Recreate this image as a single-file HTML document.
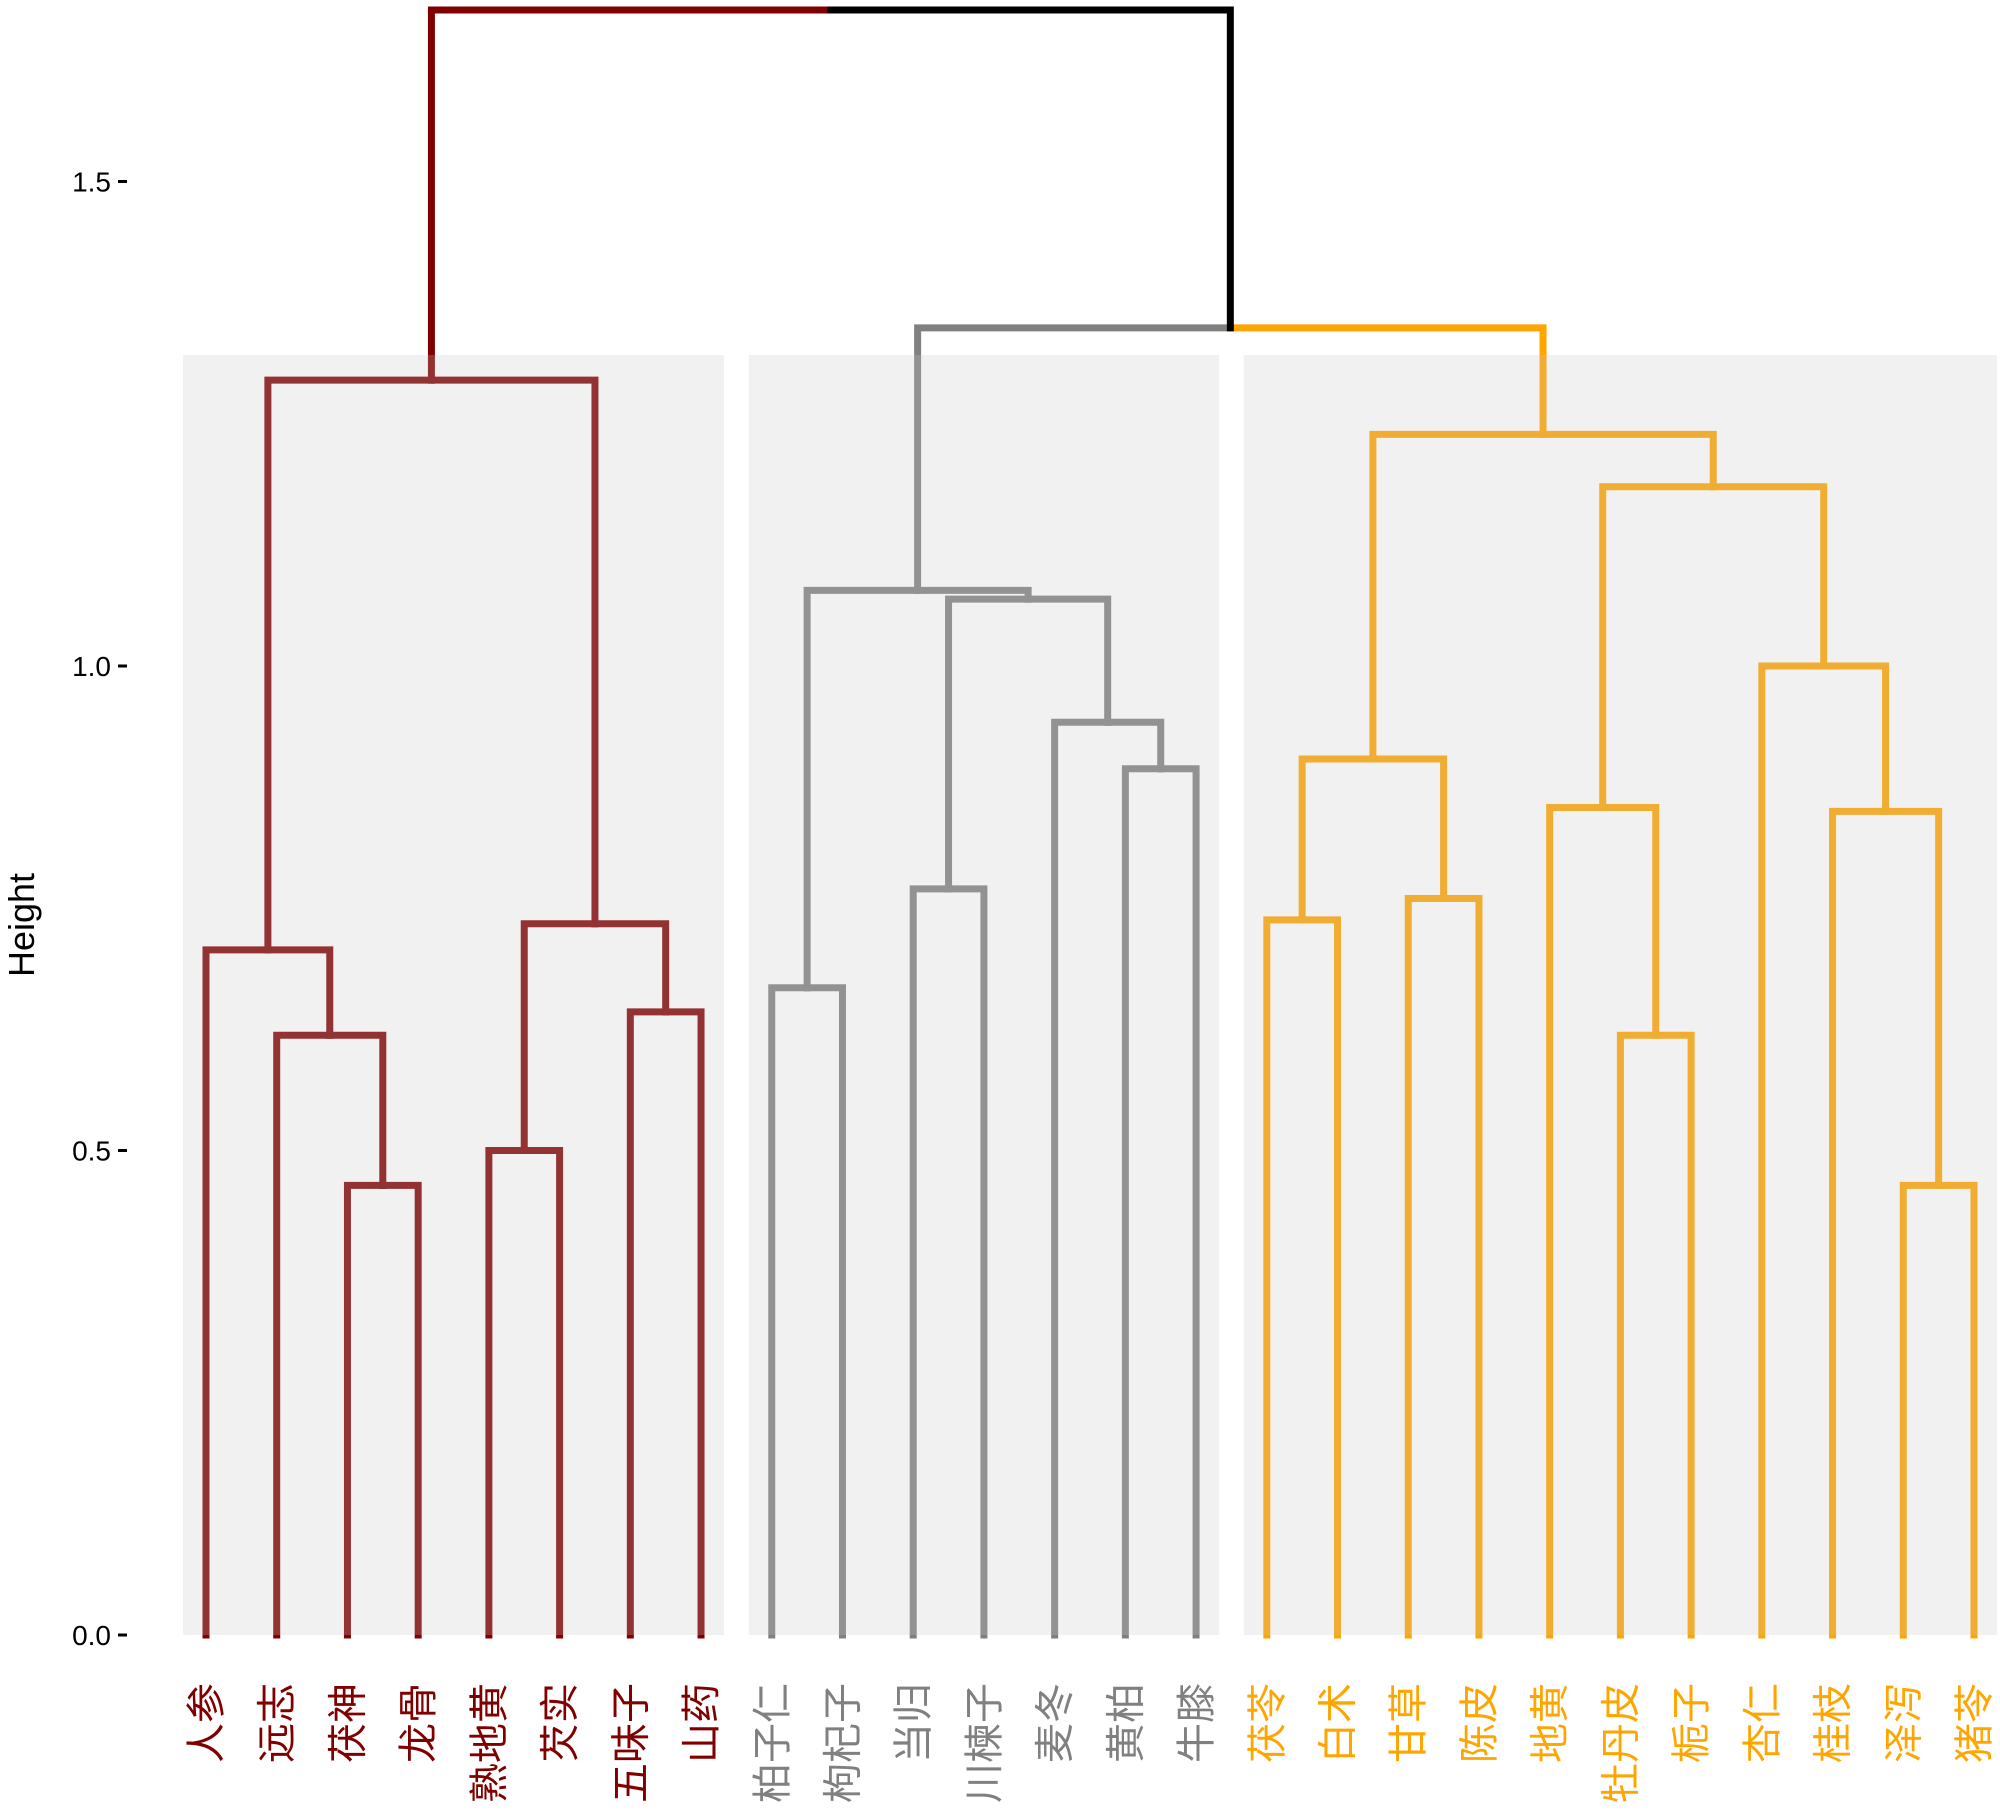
<!DOCTYPE html>
<html><head><meta charset="utf-8"><style>
html,body{margin:0;padding:0;background:#fff;}
svg{display:block;}
text{font-family:"Liberation Sans","Noto Sans CJK SC",sans-serif;}
</style></head><body>
<svg id="chart" width="2000" height="1811" viewBox="0 0 2000 1811" xmlns="http://www.w3.org/2000/svg">
<g id="lines"></g>
<g id="rects"></g>
<g id="axis"></g>
<g id="labels"></g>
<text x="0" y="0" font-size="36" text-anchor="middle" transform="translate(34,925) rotate(-90)">Height</text>
</svg>
<script>
const leaves = ["人参","远志","茯神","龙骨","熟地黄","芡实","五味子","山药","柏子仁","枸杞子","当归","川楝子","麦冬","黄柏","牛膝","茯苓","白术","甘草","陈皮","地黄","牡丹皮","栀子","杏仁","桂枝","泽泻","猪苓"];
const leafCluster = [0,0,0,0,0,0,0,0,1,1,1,1,1,1,1,2,2,2,2,2,2,2,2,2,2,2];
const mergeLeft = [-3,-2,-1,-5,-7,4,3,-9,-11,-14,-13,9,8,-16,-18,14,-21,-20,-25,-24,-23,18,16,13,7];
const mergeRight = [-4,1,2,-6,-8,5,6,-10,-12,-15,10,11,12,-17,-19,15,-22,17,-26,19,20,21,22,23,24];
const mergeHeight = [0.464,0.619,0.707,0.500,0.643,0.734,1.295,0.668,0.770,0.894,0.942,1.069,1.078,0.738,0.760,0.904,0.619,0.854,0.464,0.850,1.000,1.185,1.239,1.349,1.677];
const yTicks = [0,0.5,1.0,1.5];
const yTickLabels = ["0.0","0.5","1.0","1.5"];
const clusterColors = ["#800000","#808080","#FFA500"];

const NS="http://www.w3.org/2000/svg";
const x0=206, dx=70.72, y0=1635, yk=969;
const X=i=>x0+i*dx, Y=h=>y0-h*yk;
function mk(tag,attrs,parent){const e=document.createElementNS(NS,tag);for(const k in attrs)e.setAttribute(k,attrs[k]);parent.appendChild(e);return e;}
const nodeX=[],nodeCl=[];
function nx(r){return r<0?X(-r-1):nodeX[r-1];}
function nh(r){return r<0?0:mergeHeight[r-1];}
function ncl(r){return r<0?leafCluster[-r-1]:nodeCl[r-1];}
for(let i=0;i<mergeHeight.length;i++){
  nodeX[i]=(nx(mergeLeft[i])+nx(mergeRight[i]))/2;
  const a=ncl(mergeLeft[i]),b=ncl(mergeRight[i]);
  nodeCl[i]=(a===b)?a:-1;
}
const gl=document.getElementById('lines');
for(let i=0;i<mergeHeight.length;i++){
  const py=Y(mergeHeight[i]),px=nodeX[i];
  for(const c of [mergeLeft[i],mergeRight[i]]){
    const cl=ncl(c);const col=cl<0?"#000":clusterColors[cl];
    const p=mk('path',{d:`M${nx(c)},${Y(nh(c))}V${py}H${px}`,fill:'none',stroke:col,'stroke-width':7,'stroke-linecap':'square'},gl);
    
    
  }
}
const gr=document.getElementById('rects');
for(let k=0;k<3;k++){
  let lo=1e9,hi=-1;leafCluster.forEach((c,i)=>{if(c===k){lo=Math.min(lo,i);hi=Math.max(hi,i);}});
  const r=mk('rect',{x:X(lo)-23,y:355,width:X(hi)-X(lo)+46,height:y0-355,fill:'rgb(200,200,200)','fill-opacity':0.25},gr);
  
  
}
const ga=document.getElementById('axis');
yTicks.forEach((v,i)=>{
  const t=mk('line',{x1:118,x2:127,y1:Y(v),y2:Y(v),stroke:'#000','stroke-width':3},ga);
  
  
  const tx=mk('text',{x:111,y:Y(v)+10,'font-size':28,'text-anchor':'end',fill:'#000'},ga);
  tx.textContent=yTickLabels[i];
  
  
});
const gL=document.getElementById('labels');
leaves.forEach((n,i)=>{
  const t=mk('text',{x:0,y:0,'font-size':40,'text-anchor':'end',fill:clusterColors[leafCluster[i]],transform:`translate(${X(i)+14},1683) rotate(-90)`},gL);
  t.textContent=n;
  
  
});
</script>
</body></html>
